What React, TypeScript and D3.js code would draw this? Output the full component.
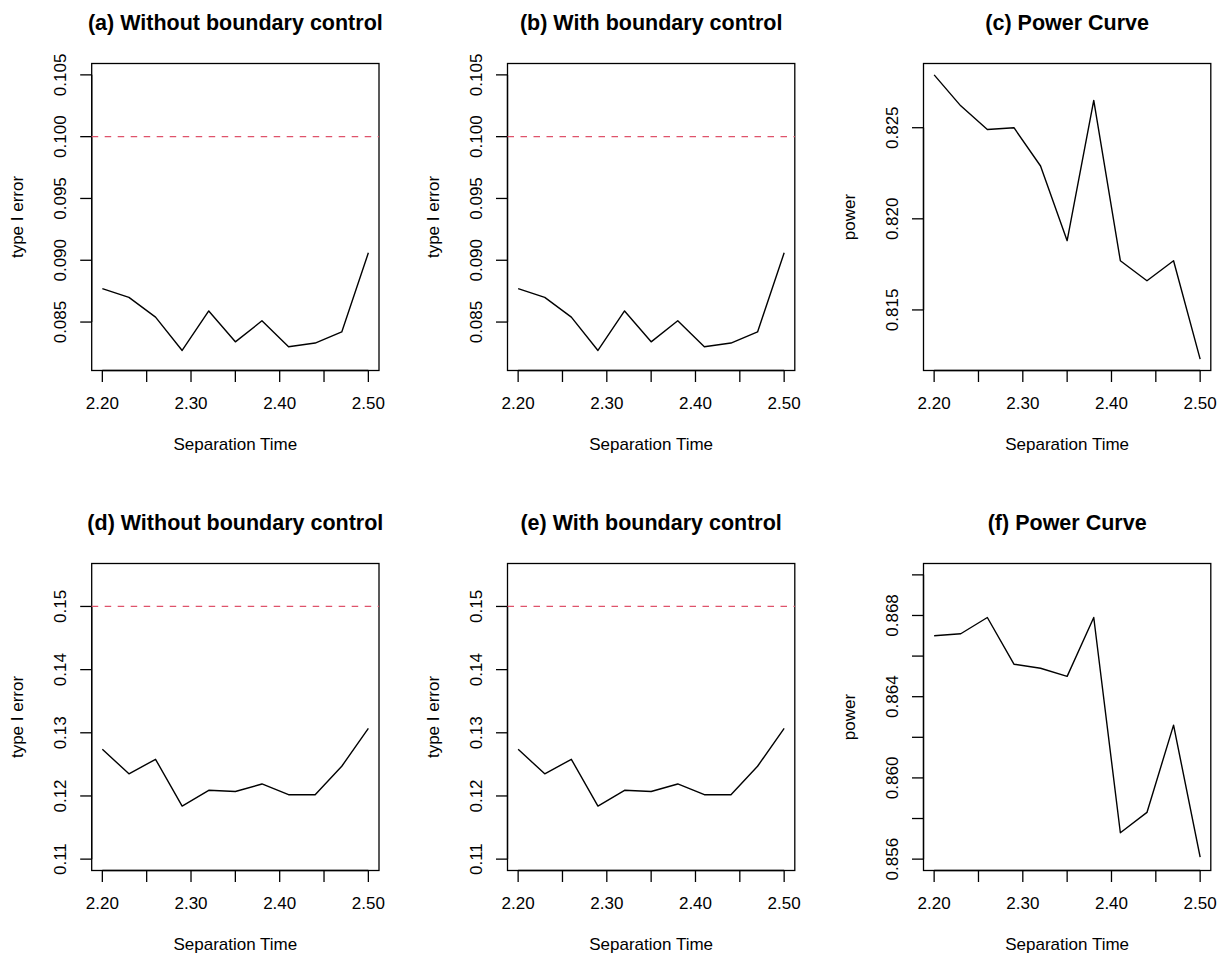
import React from "react";
import * as d3 from "d3";

// separation times shared by every panel
const sepTimes = [2.2, 2.23, 2.26, 2.29, 2.32, 2.35, 2.38, 2.41, 2.44, 2.47, 2.5];

// row 1: nominal level 0.10
const typeIErrorTop = [0.0877, 0.087, 0.0854, 0.0827, 0.0859, 0.0834, 0.0851, 0.083, 0.0833, 0.0842, 0.0906];
const powerTop = [0.8279, 0.8262, 0.8249, 0.825, 0.8229, 0.8188, 0.8265, 0.8177, 0.8166, 0.8177, 0.8123];

// row 2: nominal level 0.15
const typeIErrorBottom = [0.1274, 0.1235, 0.1258, 0.1184, 0.1209, 0.1207, 0.1219, 0.1202, 0.1202, 0.1247, 0.1307];
const powerBottom = [0.867, 0.8671, 0.8679, 0.8656, 0.8654, 0.865, 0.8679, 0.8573, 0.8583, 0.8626, 0.8561];

const xTicks = [2.2, 2.25, 2.3, 2.35, 2.4, 2.45, 2.5];
const xTickLabels = ["2.20", "2.30", "2.40", "2.50"];

const panels = [
  { title: "(a) Without boundary control", ylab: "type I error", values: typeIErrorTop, ylim: [0.082, 0.105], yTicks: [0.085, 0.09, 0.095, 0.1, 0.105], yLabels: [0.085, 0.09, 0.095, 0.1, 0.105], fmt: ".3f", ref: 0.1 },
  { title: "(b) With boundary control", ylab: "type I error", values: typeIErrorTop, ylim: [0.082, 0.105], yTicks: [0.085, 0.09, 0.095, 0.1, 0.105], yLabels: [0.085, 0.09, 0.095, 0.1, 0.105], fmt: ".3f", ref: 0.1 },
  { title: "(c) Power Curve", ylab: "power", values: powerTop, ylim: null, yTicks: [0.815, 0.82, 0.825], yLabels: [0.815, 0.82, 0.825], fmt: ".3f", ref: null },
  { title: "(d) Without boundary control", ylab: "type I error", values: typeIErrorBottom, ylim: [0.11, 0.155], yTicks: [0.11, 0.12, 0.13, 0.14, 0.15], yLabels: [0.11, 0.12, 0.13, 0.14, 0.15], fmt: ".2f", ref: 0.15 },
  { title: "(e) With boundary control", ylab: "type I error", values: typeIErrorBottom, ylim: [0.11, 0.155], yTicks: [0.11, 0.12, 0.13, 0.14, 0.15], yLabels: [0.11, 0.12, 0.13, 0.14, 0.15], fmt: ".2f", ref: 0.15 },
  { title: "(f) Power Curve", ylab: "power", values: powerBottom, ylim: [0.856, 0.87], yTicks: [0.856, 0.858, 0.86, 0.862, 0.864, 0.866, 0.868, 0.87], yLabels: [0.856, 0.86, 0.864, 0.868], fmt: ".3f", ref: null },
];

const colLeft = [91.7, 507.5, 923.5];
const rowTop = [63.5, 563.5];
const boxW = 287.3;
const boxH = 307;
const font = "'Liberation Sans', Arial, Helvetica, sans-serif";

// R style 4% axis extension
const pad = (lo: number, hi: number) => {
  const r = hi - lo;
  return [lo - 0.04 * r, hi + 0.04 * r];
};

const Panel = ({ p, left, top }: any) => {
  const x = d3.scaleLinear().domain(pad(2.2, 2.5)).range([left, left + boxW]);
  const lim = p.ylim || d3.extent(p.values);
  const y = d3.scaleLinear().domain(pad(lim[0], lim[1])).range([top + boxH, top]);
  const bottom = top + boxH;
  const line = d3.line<number>()
    .x((_, i) => x(sepTimes[i]))
    .y((d) => y(d));
  const f = d3.format(p.fmt);
  const cx = left + boxW / 2;
  const cy = top + boxH / 2;

  return (
    <g>
      <text x={cx} y={top - 34} textAnchor="middle" fontSize={21.5} fontWeight="bold" fontFamily={font}>{p.title}</text>
      <rect x={left} y={top} width={boxW} height={boxH} fill="none" stroke="#000" strokeWidth={1.3} />
      {/* x axis */}
      <line x1={x(2.2)} x2={x(2.5)} y1={bottom} y2={bottom} stroke="#000" strokeWidth={1.3} />
      {xTicks.map((t) => (
        <line key={t} x1={x(t)} x2={x(t)} y1={bottom} y2={bottom + 11.5} stroke="#000" strokeWidth={1.3} />
      ))}
      {xTickLabels.map((t) => (
        <text key={t} x={x(+t)} y={bottom + 38.5} textAnchor="middle" fontSize={17} fontFamily={font}>{t}</text>
      ))}
      <text x={cx} y={bottom + 79.5} textAnchor="middle" fontSize={17} fontFamily={font}>Separation Time</text>
      {/* y axis */}
      <line x1={left} x2={left} y1={y(p.yTicks[0])} y2={y(p.yTicks[p.yTicks.length - 1])} stroke="#000" strokeWidth={1.3} />
      {p.yTicks.map((t: number) => (
        <line key={t} x1={left - 11.5} x2={left} y1={y(t)} y2={y(t)} stroke="#000" strokeWidth={1.3} />
      ))}
      {p.yLabels.map((t: number) => (
        <text key={t} transform={`translate(${left - 25.7},${y(t)}) rotate(-90)`} textAnchor="middle" fontSize={17} fontFamily={font}>{f(t)}</text>
      ))}
      <text transform={`translate(${left - 68.7},${cy}) rotate(-90)`} textAnchor="middle" fontSize={17} fontFamily={font}>{p.ylab}</text>
      {p.ref !== null && (
        <line x1={left} x2={left + boxW} y1={y(p.ref)} y2={y(p.ref)} stroke="#DF536B" strokeWidth={1.3} strokeDasharray="6.5,6.5" />
      )}
      <path d={line(p.values) || ""} fill="none" stroke="#000" strokeWidth={1.4} strokeLinejoin="round" />
    </g>
  );
};

export default function App() {
  return (
    <svg width={1222} height={957} style={{ position: "absolute", left: 0, top: 0, background: "#fff" }}>
      <rect width={1222} height={957} fill="#fff" />
      {panels.map((p, i) => (
        <Panel key={i} p={p} left={colLeft[i % 3]} top={rowTop[Math.floor(i / 3)]} />
      ))}
    </svg>
  );
}
